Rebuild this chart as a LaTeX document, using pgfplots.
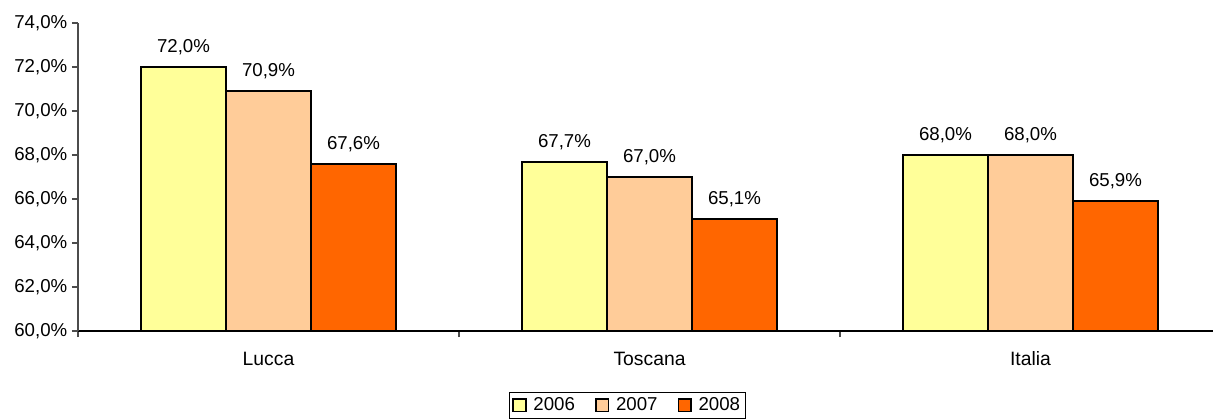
\documentclass[border=0pt]{standalone}
\usepackage{pgfplots}
\pgfplotsset{compat=1.18}
\usepackage{fontspec}
\setmainfont{Liberation Sans}
\definecolor{c2006}{HTML}{FFFF99}
\definecolor{c2007}{HTML}{FFCC99}
\definecolor{c2008}{HTML}{FF6600}
\newcommand{\lab}{\fontsize{14}{16}\selectfont}
\begin{document}
\begin{tikzpicture}
\path[use as bounding box] (-58.5pt,-66pt) rectangle (851.25pt,248.25pt);
\begin{axis}[
  at={(0,0)}, anchor=south west,
  scale only axis,
  width=857.25pt, height=231pt,
  xmin=-0.5, xmax=2.5,
  ymin=60, ymax=74,
  ytick={60,62,...,74},
  axis x line=bottom, axis y line=left,
  axis line style={-, line width=0.8pt},
  x axis line style={black},
  y axis line style={black!70},
  tick align=outside,
  major tick length=4.5pt,
  tick style={black!70, line width=0.8pt},
  xtick={-0.5,0.5,1.5},
  xticklabels={},
  extra x ticks={0,1,2},
  extra x tick labels={Lucca,Toscana,Italia},
  extra x tick style={major tick length=0pt, tick label style={yshift=-12pt, font=\fontsize{14.5}{16}\selectfont}},
  /pgf/number format/assume math mode=true,
  yticklabel={\pgfmathprintnumber[fixed,fixed zerofill,precision=1,use comma]{\tick}\%},
  tick label style={font=\lab, black},
  ybar=0pt,
  bar width=63.75pt,
  nodes near coords={\pgfmathprintnumber[fixed,fixed zerofill,precision=1,use comma]{\pgfplotspointmeta}\%},
  every node near coord/.append style={font=\lab, black, yshift=5pt},
  every axis plot/.append style={draw=black, line width=1.5pt},
  legend columns=3,
  legend style={at={(0.4808,-0.198)}, anchor=north, font=\lab, draw=black, line width=0.6pt,
    /tikz/every odd column/.append style={column sep=3pt},
    /tikz/every even column/.append style={column sep=13pt}, inner sep=2pt},
  legend image code/.code={\draw[#1, line width=1.2pt] (0pt,-4.8pt) rectangle (9.6pt,4.8pt);},
]
\addplot[fill=c2006] coordinates {(0,72.0) (1,67.7) (2,68.0)};
\addplot[fill=c2007] coordinates {(0,70.9) (1,67.0) (2,68.0)};
\addplot[fill=c2008] coordinates {(0,67.6) (1,65.1) (2,65.9)};
\legend{2006,2007,2008}
\end{axis}
\end{tikzpicture}
\end{document}
